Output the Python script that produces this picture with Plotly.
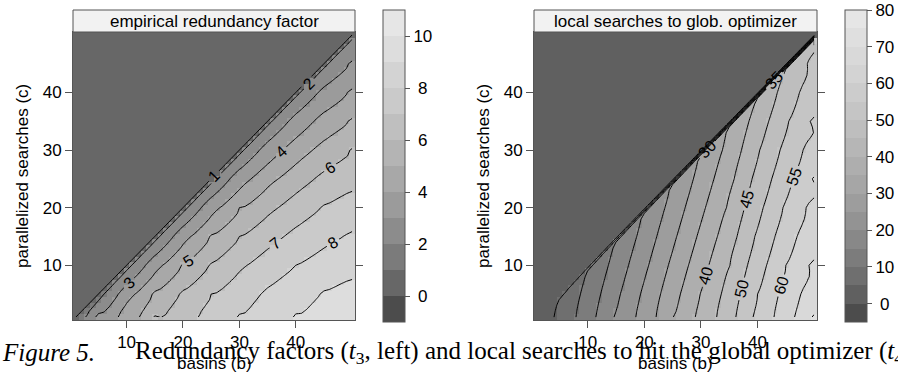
import plotly.graph_objects as go

SANS = "Liberation Sans, Arial, Helvetica, sans-serif"
SERIF = "Liberation Serif, Times New Roman, serif"
FRAME = "#555555"

# Sweep grid: basins b and parallelized searches c both run over 1..50
basins = list(range(1, 51))
searches = list(range(1, 51))

# Coarse sample positions of the two surfaces (columns b, rows c)
sample_basins = [5, 10, 15, 20, 25, 30, 35, 40, 45, 50]
sample_searches = [1, 5, 10, 15, 20, 25, 30, 35, 40, 45]

# --- empirical redundancy factor -------------------------------------------
redundancy_samples = [
    [3.4, 5.0, 6.1, 6.95, 7.6, 8.1, 8.7, 9.1, 9.5, 9.9],
    [None, 3.8, 5.2, 6.2, 7.0, 7.6, 8.2, 8.7, 9.1, 9.5],
    [None, None, 3.8, 5.1, 6.1, 6.9, 7.5, 8.0, 8.4, 8.8],
    [None, None, None, 3.8, 5.1, 6.0, 6.7, 7.3, 7.8, 8.2],
    [None, None, None, None, 3.8, 5.0, 5.8, 6.5, 7.1, 7.6],
    [None, None, None, None, None, 3.7, 4.8, 5.6, 6.3, 6.9],
    [None, None, None, None, None, None, 3.5, 4.6, 5.4, 6.1],
    [None, None, None, None, None, None, None, 3.4, 4.5, 5.2],
    [None, None, None, None, None, None, None, None, 3.3, 4.3],
    [None, None, None, None, None, None, None, None, None, 3.2],
]
# values one step below the diagonal (c = b - 1) for b = 2..50
redundancy_next_to_diagonal = [
    1.80, 1.85, 1.90, 1.95, 2.00, 2.00, 2.05, 2.05, 2.10,
    2.10, 2.10, 2.15, 2.10, 2.15, 2.15, 2.20, 2.15, 2.20, 2.20,
    2.20, 2.20, 2.25, 2.20, 2.25, 2.20, 2.25, 2.25, 2.20, 2.25,
    2.25, 2.20, 2.25, 2.25, 2.30, 2.25, 2.25, 2.30, 2.25, 2.30,
    2.25, 2.30, 2.25, 2.30, 2.30, 2.25, 2.30, 2.30, 2.25, 2.30,
]
redundancy_floor = 1  # region c >= b

# --- local searches to the global optimizer --------------------------------
optimizer_samples = [
    [6.6, 13.5, 20.7, 27.7, 34.9, 41.9, 48.6, 56.7, 63.7, 70.9],
    [None, 11.8, 19.0, 26.0, 33.2, 40.2, 46.9, 55.0, 62.0, 69.2],
    [None, None, 16.9, 23.9, 31.1, 38.1, 44.8, 52.9, 60.0, 67.1],
    [None, None, None, 21.8, 29.0, 36.0, 42.7, 50.8, 57.9, 65.0],
    [None, None, None, None, 26.9, 33.9, 40.6, 48.7, 55.8, 62.9],
    [None, None, None, None, None, 31.8, 38.5, 46.6, 53.7, 60.8],
    [None, None, None, None, None, None, 36.4, 44.5, 51.6, 58.7],
    [None, None, None, None, None, None, None, 42.4, 49.5, 56.6],
    [None, None, None, None, None, None, None, None, 47.4, 54.5],
    [None, None, None, None, None, None, None, None, None, 52.4],
]
optimizer_next_to_diagonal = [
    2.3, 3.4, 4.3, 5.4, 6.2, 7.4, 8.3, 9.2, 10.4,
    11.3, 12.2, 13.4, 14.3, 15.5, 16.2, 17.4, 18.3, 19.5, 20.2,
    21.4, 22.3, 23.2, 24.5, 25.3, 26.2, 27.4, 28.3, 29.5, 30.2,
    31.4, 32.3, 33.2, 34.4, 35.3, 36.5, 37.2, 38.4, 39.3, 40.2,
    41.4, 42.3, 43.5, 44.2, 45.4, 46.3, 47.2, 48.4, 49.3, 50.4,
]
optimizer_floor = 1  # region c >= b

xticks = [10, 20, 30, 40]


def surface_points(samples, next_to_diag, floor):
    """Column data (b, c, value); plotly fills the unsampled grid nodes."""
    xs, ys, zs = [], [], []
    for b in basins:
        for c in searches:
            if c >= b:
                xs.append(b)
                ys.append(c)
                zs.append(floor)
    for b, v in zip(basins[1:], next_to_diag):
        xs.append(b)
        ys.append(b - 1)
        zs.append(v)
    for c, row in zip(sample_searches, samples):
        for b, v in zip(sample_basins, row):
            if v is not None:
                xs.append(b)
                ys.append(c)
                zs.append(v)
    return xs, ys, zs


def gray_levels(n, start=0.3, end=0.9, gamma=2.2):
    a, b = start ** gamma, end ** gamma
    return [round(255 * (a + i * (b - a) / (n - 1)) ** (1 / gamma)) for i in range(n)]


def stepped_scale(n):
    eps = 1e-6  # right-closed bands
    scale = []
    for i, k in enumerate(gray_levels(n)):
        lo = 0 if i == 0 else i / n + eps
        hi = 1 if i == n - 1 else (i + 1) / n + eps
        col = f"rgb({k},{k},{k})"
        scale += [[lo, col], [hi, col]]
    return scale


def px_x(p):
    return p / 898


def px_y(p):
    return 1 - p / 378


def centred(v):
    s = str(v)
    return "\u00a0" + s if len(s) == 1 else s


panels = [
    dict(pts=surface_points(redundancy_samples, redundancy_next_to_diagonal, redundancy_floor),
         zmin=-1, zmax=11, bands=12,
         line_sets=[(1, 9, 1, True)],
         cticks=[0, 2, 4, 6, 8, 10],
         xa="x", ya="y", cb_x=383, left=73, right=355,
         title="empirical redundancy factor", ytitle_x=22),
    dict(pts=surface_points(optimizer_samples, optimizer_next_to_diagonal, optimizer_floor),
         zmin=-5, zmax=80, bands=17,
         # the low levels all crowd onto the diagonal; only the fanned-out ones carry labels
         line_sets=[(5, 25, 5, False), (30, 70, 5, True)],
         cticks=list(range(0, 81, 10)),
         xa="x2", ya="y2", cb_x=845, left=534, right=817,
         title="local searches to glob. optimizer", ytitle_x=483),
]

fig = go.Figure()
annotations = []
shapes = []

for p in panels:
    xs, ys, zs = p["pts"]
    fig.add_trace(go.Heatmap(
        x=xs, y=ys, z=zs, zmin=p["zmin"], zmax=p["zmax"],
        colorscale=stepped_scale(p["bands"]), connectgaps=True,
        xaxis=p["xa"], yaxis=p["ya"], hoverinfo="skip",
        colorbar=dict(
            x=px_x(p["cb_x"]), xanchor="left", xpad=0,
            y=px_y(10), yanchor="top", ypad=0,
            len=312, lenmode="pixels", thickness=22, thicknessmode="pixels",
            outlinewidth=1, outlinecolor=FRAME,
            tickvals=p["cticks"], ticktext=[centred(v) for v in p["cticks"]],
            ticks="outside", ticklen=5, tickwidth=1, tickcolor=FRAME,
            tickfont=dict(family=SANS, size=17, color="black"),
        ),
    ))
    for lo, hi, step, labelled in p["line_sets"]:
        fig.add_trace(go.Contour(
            x=xs, y=ys, z=zs, connectgaps=True,
            contours=dict(coloring="none", start=lo, end=hi, size=step,
                          showlabels=labelled,
                          labelfont=dict(family=SANS, size=16, color="black")),
            line=dict(color="black", width=1, smoothing=0),
            showscale=False, xaxis=p["xa"], yaxis=p["ya"], hoverinfo="skip",
        ))
    mid = (p["left"] + p["right"]) / 2
    shapes.append(dict(type="rect", xref="paper", yref="paper",
                       x0=px_x(p["left"]), x1=px_x(p["right"]),
                       y0=px_y(32), y1=px_y(10),
                       fillcolor="#f2f2f2", line=dict(color=FRAME, width=1), layer="above"))
    annotations.append(dict(text=p["title"], x=px_x(mid), y=px_y(21), xref="paper", yref="paper",
                            showarrow=False, xanchor="center", yanchor="middle",
                            font=dict(family=SANS, size=17, color="black")))
    annotations.append(dict(text="parallelized searches (c)", x=px_x(p["ytitle_x"]), y=px_y(176),
                            xref="paper", yref="paper", showarrow=False, textangle=-90,
                            xanchor="center", yanchor="middle",
                            font=dict(family=SANS, size=17, color="black")))
    annotations.append(dict(text="basins (b)", x=px_x(mid), y=px_y(363), xref="paper", yref="paper",
                            showarrow=False, xanchor="center", yanchor="middle",
                            font=dict(family=SANS, size=17, color="black")))

annotations.append(dict(text="<i>Figure 5.</i>", x=0, y=px_y(352), xref="paper", yref="paper",
                        showarrow=False, xanchor="left", yanchor="middle",
                        font=dict(family=SERIF, size=25, color="black")))
annotations.append(dict(
    text="Redundancy factors (<i>t</i><sub>3</sub>, left) and local searches to hit the global optimizer (<i>t</i><sub>4</sub>, right)",
    x=px_x(133), y=px_y(352), xref="paper", yref="paper", showarrow=False,
    xanchor="left", yanchor="middle", font=dict(family=SERIF, size=25, color="black")))

axis_common = dict(range=[0.5, 50.5], tickvals=xticks, ticks="outside", ticklen=7, tickwidth=1,
                   tickcolor=FRAME, showline=True, linecolor=FRAME, linewidth=1,
                   showgrid=False, zeroline=False,
                   tickfont=dict(family=SANS, size=17, color="black"))
top_ticks = dict(range=[0.5, 50.5], tickvals=xticks, ticks="outside", ticklen=8, tickwidth=1,
                 tickcolor=FRAME, showticklabels=False, showline=False, showgrid=False,
                 zeroline=False, anchor="free", position=px_y(10), side="top")

y_dom = [px_y(320), px_y(32)]
fig.update_layout(
    width=898, height=378, margin=dict(l=0, r=0, t=0, b=0),
    paper_bgcolor="white", plot_bgcolor="white", showlegend=False,
    xaxis=dict(domain=[px_x(73), px_x(355)], anchor="y", mirror=True, **axis_common),
    yaxis=dict(domain=y_dom, anchor="x", mirror="ticks", **axis_common),
    xaxis2=dict(domain=[px_x(534), px_x(817)], anchor="y2", mirror=True, **axis_common),
    yaxis2=dict(domain=y_dom, anchor="x2", mirror="ticks", **axis_common),
    xaxis3=dict(overlaying="x", **top_ticks),
    xaxis4=dict(overlaying="x2", **top_ticks),
    shapes=shapes, annotations=annotations,
)

fig.write_html("out.html")
